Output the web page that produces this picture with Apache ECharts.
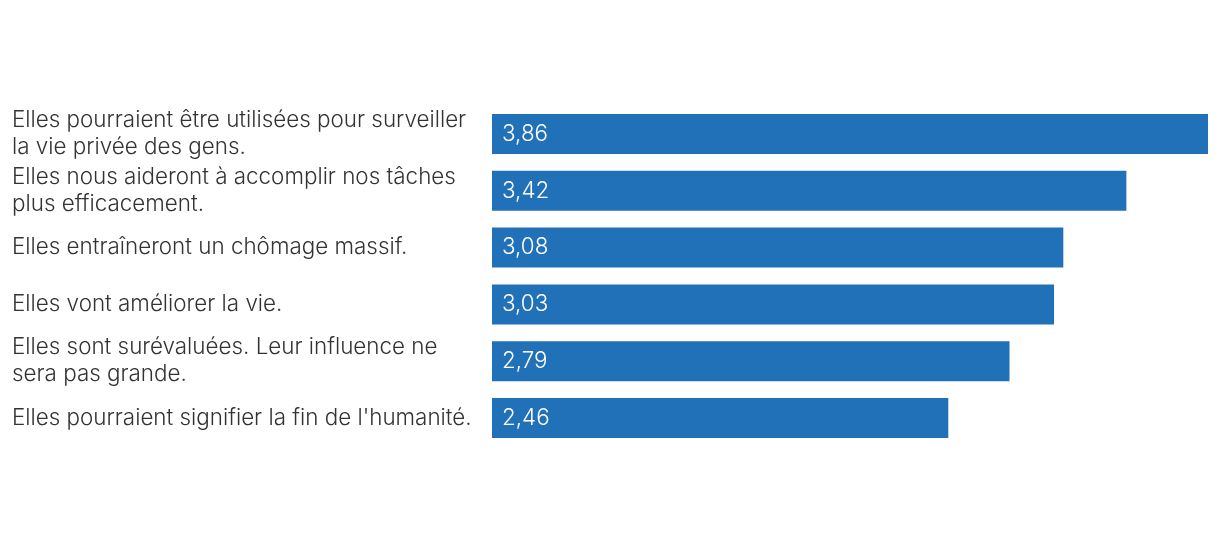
<!DOCTYPE html>
<html>
<head>
<meta charset="utf-8">
<script src="https://cdn.jsdelivr.net/npm/echarts@6/dist/echarts.min.js"></script>
<style>html,body{margin:0;padding:0;background:#fff}#c{width:1220px;height:546px}</style>
</head>
<body>
<div id="c"></div>
<script>
const categories = [
  "Elles pourraient être utilisées pour surveiller\nla vie privée des gens.",
  "Elles nous aideront à accomplir nos tâches\nplus efficacement.",
  "Elles entraîneront un chômage massif.",
  "Elles vont améliorer la vie.",
  "Elles sont surévaluées. Leur influence ne\nsera pas grande.",
  "Elles pourraient signifier la fin de l'humanité."
];
const values = [3.86, 3.42, 3.08, 3.03, 2.79, 2.46];

const chart = echarts.init(document.getElementById('c'), null, {renderer: 'canvas'});
chart.setOption({
  animation: false,
  grid: {left: 492, right: 12, top: 105.6, height: 340.8, containLabel: false},
  xAxis: {type: 'value', min: 0, max: 3.86, show: false},
  yAxis: {
    type: 'category', data: categories, inverse: true,
    axisLine: {show: false}, axisTick: {show: false}, splitLine: {show: false},
    axisLabel: {
      align: 'left', margin: 480, color: '#333', fontFamily: 'Inter', fontWeight: 300,
      fontSize: 22.4, lineHeight: 27
    }
  },
  series: [{
    type: 'bar', data: values, barWidth: 40,
    itemStyle: {color: '#2171b9'},
    label: {
      show: true, position: 'insideLeft', distance: 10, color: '#fff',
      fontFamily: 'Inter', fontWeight: 300, fontSize: 22.4,
      formatter: p => p.value.toFixed(2).replace('.', ',')
    }
  }]
});
</script>
</body>
</html>
